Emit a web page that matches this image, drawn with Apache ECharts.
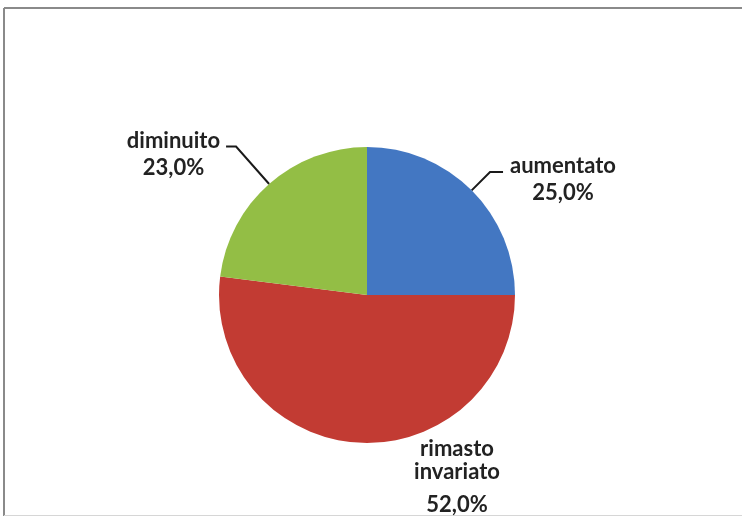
<!DOCTYPE html>
<html>
<head>
<meta charset="utf-8">
<script src="https://cdn.jsdelivr.net/npm/echarts@6/dist/echarts.min.js"></script>
<style>
html,body{margin:0;padding:0;background:#fff;}
#chart{width:742px;height:518px;}
</style>
</head>
<body>
<div id="chart"></div>
<script>
var categories = ['aumentato', 'rimasto invariato', 'diminuito'];
var values = [25.0, 52.0, 23.0];
var colors = ['#4377C2', '#C23B33', '#93BE45'];

var chart = echarts.init(document.getElementById('chart'));

function fmt(v) { return v.toFixed(1).replace('.', ',') + '%'; }

var data = categories.map(function (c, i) {
  return { name: c, value: values[i], itemStyle: { color: colors[i] } };
});
data[0].labelLine = { length: 26, length2: 13 };
data[0].label = { padding: [14, 0, 0, 0], distanceToLabelLine: 7 };
data[2].labelLine = { length: 50, length2: 10 };
data[2].label = { padding: [16, 0, 0, 0] };
data[1].labelLine = { show: false };

var txt = { fontFamily: 'Lato', fontWeight: 'bold', fontSize: 22, color: '#222222' };

var option = {
  backgroundColor: '#ffffff',
  animation: false,
  graphic: [
    { type: 'line', shape: { x1: 4, y1: 8, x2: 742, y2: 8 }, style: { stroke: '#8a8a8a', lineWidth: 2 }, silent: true },
    { type: 'line', shape: { x1: 4, y1: 8, x2: 4, y2: 516 }, style: { stroke: '#8a8a8a', lineWidth: 2 }, silent: true },
    { type: 'line', shape: { x1: 4, y1: 515.5, x2: 742, y2: 515.5 }, style: { stroke: '#d6d6d6', lineWidth: 1 }, silent: true }
  ],
  series: [{
    type: 'pie',
    center: [367, 295],
    radius: 148,
    startAngle: 90,
    clockwise: true,
    avoidLabelOverlap: false,
    itemStyle: { borderWidth: 0 },
    label: {
      show: true,
      position: 'outside',
      distanceToLabelLine: 6,
      fontFamily: 'Lato',
      fontWeight: 'bold',
      fontSize: 22,
      color: '#222222',
      lineHeight: 27,
      formatter: function (p) {
        if (p.dataIndex === 1) {
          var parts = p.name.split(' ').map(function (s) { return '{n|' + s + '}'; });
          parts.push('{p|' + fmt(p.value) + '}');
          return parts.join('\n');
        }
        return '{t|' + p.name + '}\n{t|' + fmt(p.value) + '}';
      },
      rich: {
        t: Object.assign({ align: 'center', lineHeight: 27 }, txt),
        n: Object.assign({ align: 'center', lineHeight: 23 }, txt),
        p: Object.assign({ align: 'center', lineHeight: 44 }, txt)
      }
    },
    labelLine: {
      show: true,
      lineStyle: { color: '#1a1a1a', width: 2 }
    },
    labelLayout: function (params) {
      if (params.dataIndex === 1) {
        return { x: 457, y: 437, align: 'center', verticalAlign: 'top' };
      }
    },
    data: data
  }]
};
chart.setOption(option);
</script>
</body>
</html>
